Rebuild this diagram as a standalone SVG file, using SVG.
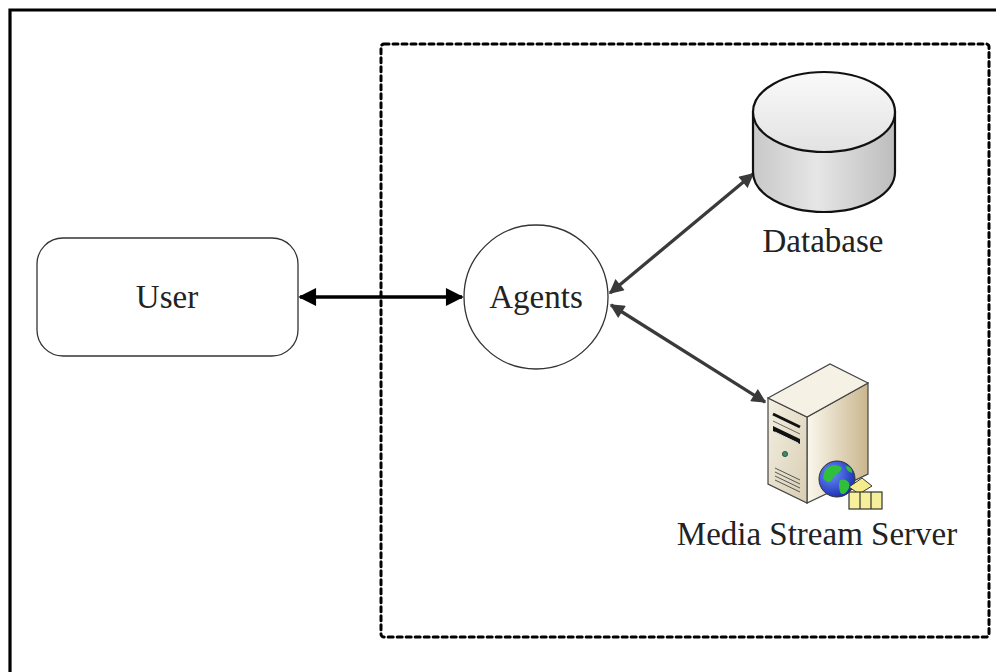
<svg xmlns="http://www.w3.org/2000/svg" width="996" height="672" viewBox="0 0 996 672">
  <style>
    .lbl { font-family: "Liberation Serif", "Times New Roman", serif; font-size: 33px; fill: #222; text-anchor: middle; }
    .node { fill: #fff; stroke: #333; stroke-width: 1.3; }
    .conn-main { stroke: #000; stroke-width: 3.3; fill: none; }
    .conn { stroke: #3a3a3a; stroke-width: 3.3; fill: none; }
  </style>
  <defs>
    <marker id="headBlack" viewBox="0 0 10 10" refX="9" refY="5" markerWidth="8" markerHeight="5.4" orient="auto-start-reverse" markerUnits="strokeWidth">
      <path d="M0,0 L10,5 L0,10 z" fill="#000"/>
    </marker>
    <marker id="headGrey" viewBox="0 0 10 10" refX="9" refY="5" markerWidth="6.2" markerHeight="4.4" orient="auto-start-reverse" markerUnits="strokeWidth">
      <path d="M0,0 L10,5 L0,10 z" fill="#3a3a3a"/>
    </marker>
    <linearGradient id="cylSide" x1="0" y1="0" x2="1" y2="0">
      <stop offset="0" stop-color="#c8c8c8"/>
      <stop offset="0.45" stop-color="#e6e6e6"/>
      <stop offset="1" stop-color="#bdbdbd"/>
    </linearGradient>
    <linearGradient id="cylTop" x1="0" y1="0" x2="0" y2="1">
      <stop offset="0" stop-color="#fafafa"/>
      <stop offset="1" stop-color="#e2e2e2"/>
    </linearGradient>
    <linearGradient id="pcFront" x1="0" y1="0" x2="1" y2="1">
      <stop offset="0" stop-color="#f3efe2"/>
      <stop offset="1" stop-color="#d8ceb2"/>
    </linearGradient>
    <linearGradient id="pcSide" x1="0" y1="0" x2="1" y2="0">
      <stop offset="0" stop-color="#fbf8ee"/>
      <stop offset="1" stop-color="#c9b68e"/>
    </linearGradient>
    <radialGradient id="globe" cx="0.35" cy="0.35" r="0.7">
      <stop offset="0" stop-color="#6a8cff"/>
      <stop offset="1" stop-color="#1a2fb0"/>
    </radialGradient>
  </defs>

  <!-- outer frame (right and bottom edges run off the page) -->
  <path d="M10,700 V10 H1000" fill="none" stroke="#000" stroke-width="3.2"/>

  <!-- system boundary -->
  <rect id="boundary" x="381" y="44" width="608" height="593" rx="3" fill="none" stroke="#000" stroke-width="3" stroke-dasharray="5 4" stroke-linecap="round"/>

  <!-- connectors -->
  <g id="connectors">
    <line class="conn-main" x1="300" y1="297" x2="462" y2="297" marker-start="url(#headBlack)" marker-end="url(#headBlack)"/>
    <line class="conn" x1="610" y1="293" x2="753" y2="174" marker-start="url(#headGrey)" marker-end="url(#headGrey)"/>
    <line class="conn" x1="611" y1="305" x2="765" y2="402" marker-start="url(#headGrey)" marker-end="url(#headGrey)"/>
  </g>

  <!-- User -->
  <g id="user">
    <rect class="node" x="37" y="238" width="261" height="118" rx="26"/>
    <text class="lbl" x="167" y="308">User</text>
  </g>

  <!-- Agents -->
  <g id="agents">
    <circle class="node" cx="536" cy="297" r="72"/>
    <text class="lbl" x="536" y="308">Agents</text>
  </g>

  <!-- Database cylinder -->
  <g id="database">
    <path d="M753,112 V172 A71,40 0 0 0 895,172 V112 Z" fill="url(#cylSide)" stroke="#111" stroke-width="2.2"/>
    <ellipse cx="824" cy="112" rx="71" ry="40" fill="url(#cylTop)" stroke="#111" stroke-width="2.2"/>
    <text class="lbl" x="823" y="252">Database</text>
  </g>

  <!-- Media Stream Server tower -->
  <g id="media-server">
    <!-- side -->
    <polygon points="807,417 868,383 868,474 807,503" fill="url(#pcSide)" stroke="#444" stroke-width="1.2"/>
    <!-- front -->
    <polygon points="768,398 807,417 807,503 768,484" fill="url(#pcFront)" stroke="#444" stroke-width="1.2"/>
    <!-- top -->
    <polygon points="768,398 830,364 868,383 807,417" fill="#f5f1e4" stroke="#444" stroke-width="1.2"/>
    <!-- drive bays -->
    <path d="M773,414 L800,427" stroke="#111" stroke-width="3"/>
    <path d="M773,421 L800,434" stroke="#666" stroke-width="1"/>
    <path d="M773,426 L800,439 L800,444 L773,431 Z" fill="#111"/>
    <path d="M775,432 L798,443" stroke="#ddd" stroke-width="1"/>
    <!-- power led -->
    <circle cx="785" cy="454" r="2.6" fill="#3d8a6a" stroke="#1b4a36" stroke-width="0.8"/>
    <!-- vents -->
    <path d="M775,468 L800,480 M775,472 L800,484 M775,476 L800,488 M775,480 L800,492" stroke="#555" stroke-width="1"/>
    <!-- globe -->
    <circle cx="837" cy="479" r="18" fill="url(#globe)" stroke="#333" stroke-width="1"/>
    <path d="M825,470 C830,464 838,464 842,468 C840,474 834,474 832,480 C829,484 826,482 823,478 Z" fill="#2fbf3a"/>
    <path d="M840,480 C846,478 851,482 849,488 C846,494 842,496 840,492 C839,488 838,484 840,480 Z" fill="#2fbf3a"/>
    <path d="M846,466 C850,466 853,470 852,473 C849,472 846,470 846,466 Z" fill="#2fbf3a"/>
    <!-- media box -->
    <polygon points="849,487 862,478 872,486 859,494" fill="#f4ec8c" stroke="#333" stroke-width="1"/>
    <rect x="849" y="492" width="33" height="17" fill="#f7f09a" stroke="#333" stroke-width="1.2"/>
    <path d="M860,492 V509 M871,492 V509" stroke="#333" stroke-width="1.2"/>
    <text class="lbl" x="817" y="545">Media Stream Server</text>
  </g>
</svg>
